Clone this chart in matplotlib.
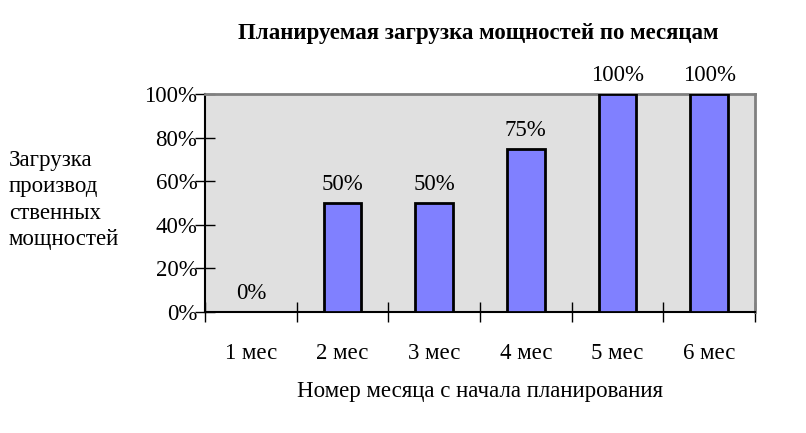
import matplotlib
matplotlib.use("Agg")
import matplotlib.pyplot as plt
import numpy as np

categories = ["1 мес", "2 мес", "3 мес", "4 мес", "5 мес", "6 мес"]
values = [0, 50, 50, 75, 100, 100]
yticks = [0, 20, 40, 60, 80, 100]
title = "Планируемая загрузка мощностей по месяцам"
xlabel = "Номер месяца с начала планирования"
ylabel = "Загрузка\nпроизвод\nственных\nмощностей"

plt.rcParams['font.family'] = ['Liberation Serif', 'DejaVu Serif']
FS = 16.5

fig = plt.figure(figsize=(8.06, 4.33), dpi=100)
ax = fig.add_axes([205/806, 1-312/433, 550/806, (312-94)/433])
ax.set_facecolor("#e0e0e0")

x = np.arange(len(categories))
ax.bar(x, values, width=0.41, color="#8080ff", edgecolor="black", linewidth=2, zorder=3)
for xi, v in zip(x, values):
    ax.text(xi, v + 3.6, f"{v}%", ha="center", va="bottom", fontsize=FS)

ax.set_xlim(-0.5, len(categories) - 0.5)
ax.set_ylim(0, 100)
ax.set_yticks(yticks)
ax.set_yticklabels([f"{t}%" for t in yticks], fontsize=FS)
ax.set_xticks(np.arange(-0.5, len(categories)))
ax.set_xticklabels([])
ax.set_xticks(x, minor=True)
ax.set_xticklabels(categories, minor=True, fontsize=FS)
ax.tick_params(axis="x", which="minor", length=0, pad=22)
ax.tick_params(axis="x", which="major", length=14, width=1, direction="inout")
ax.tick_params(axis="y", length=15, width=1, direction="inout", pad=-2)

for s in ["top", "right"]:
    ax.spines[s].set_color("#808080")
    ax.spines[s].set_linewidth(2)
for s in ["left", "bottom"]:
    ax.spines[s].set_color("black")
    ax.spines[s].set_linewidth(1.5)

fig.text(478/806, 1-34/433, title, ha="center", va="center", fontsize=FS, fontweight="bold")
fig.text(480/806, 1-391/433, xlabel, ha="center", va="center", fontsize=FS)
fig.text(9/806, 1-200/433, ylabel, ha="left", va="center", fontsize=FS, linespacing=1.32)

fig.savefig("out.png", dpi=100)
